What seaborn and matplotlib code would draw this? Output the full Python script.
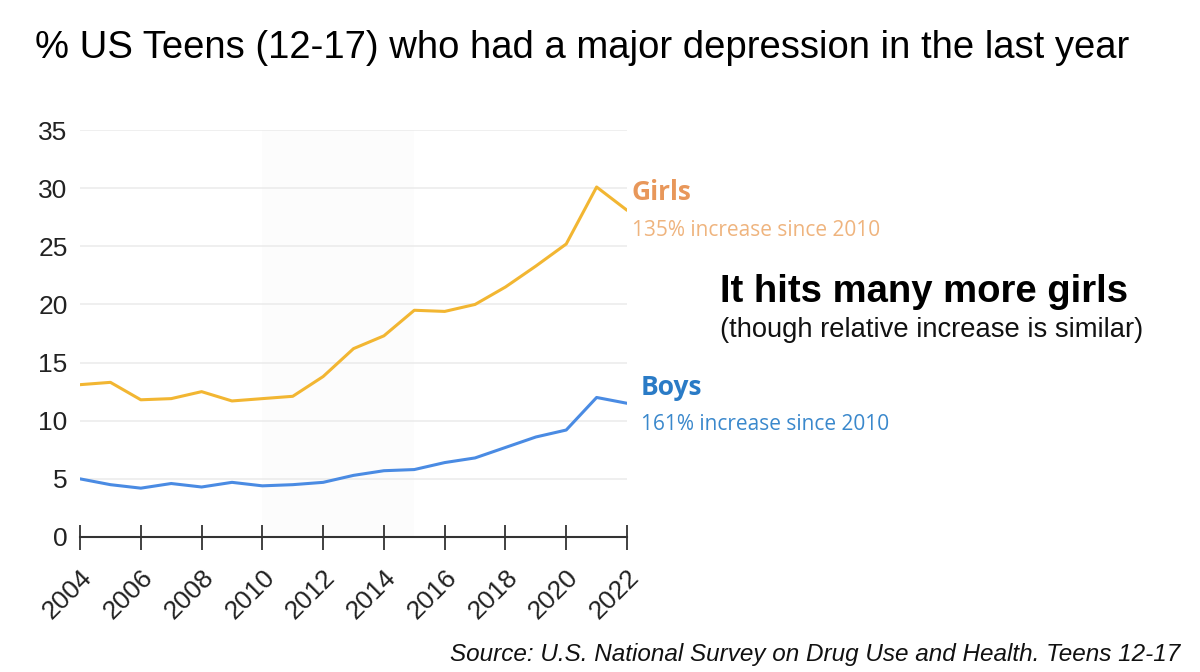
import matplotlib
matplotlib.use("Agg")
import matplotlib.pyplot as plt
import seaborn as sns
import pandas as pd
import numpy as np

# Data
years = list(range(2004, 2023))
girls = [13.1, 13.3, 11.8, 11.9, 12.5, 11.7, 11.9, 12.1, 13.8, 16.2, 17.3, 19.5,
         19.4, 20.0, 21.5, 23.3, 25.2, 30.1, 28.1]
boys = [5.0, 4.5, 4.2, 4.6, 4.3, 4.7, 4.4, 4.5, 4.7, 5.3, 5.7, 5.8,
        6.4, 6.8, 7.7, 8.6, 9.2, 12.0, 11.5]
y_ticks = [0, 5, 10, 15, 20, 25, 30, 35]
x_ticks = list(range(2004, 2023, 2))

GIRL_LINE = "#f2b632"
BOY_LINE = "#4a8be3"

df = pd.DataFrame({
    "year": years * 2,
    "value": girls + boys,
    "group": ["Girls"] * len(years) + ["Boys"] * len(years),
})

sns.set_theme(style="white")
plt.rcParams["font.family"] = ["Liberation Sans", "DejaVu Sans"]

fig = plt.figure(figsize=(12, 6.72), dpi=100)
ax = fig.add_axes([0.0667, 0.2009, 0.4558, 0.6056])

# very faint highlighted band behind 2010-2015
ax.axvspan(2010, 2015, color="#fcfcfc", zorder=0, lw=0)

for y in y_ticks[1:]:
    ax.axhline(y, color="#ececec", lw=1.2, zorder=1)

sns.lineplot(data=df, x="year", y="value", hue="group",
             palette={"Girls": GIRL_LINE, "Boys": BOY_LINE},
             linewidth=2.2, legend=False, ax=ax, zorder=3)

ax.set_xlim(2004, 2022)
ax.set_ylim(0, 35)
ax.set_xticks(x_ticks)
ax.set_xticklabels([str(x) for x in x_ticks], rotation=45, ha="right",
                   rotation_mode="anchor", fontsize=19, color="#222222")
ax.set_yticks(y_ticks)
ax.set_yticklabels([str(y) for y in y_ticks], fontsize=19, color="#222222")
ax.tick_params(axis="x", direction="inout", length=18, width=1.3,
               color="#333333", pad=11, bottom=True)
ax.tick_params(axis="y", length=0, pad=9)
ax.set_xlabel("")
ax.set_ylabel("")

for side in ["top", "right", "left"]:
    ax.spines[side].set_visible(False)
ax.spines["bottom"].set_color("#333333")
ax.spines["bottom"].set_linewidth(1.5)
ax.spines["bottom"].set_zorder(4)

# series labels
lab_font = ["Open Sans", "DejaVu Sans"]
fig.text(632 / 1200, 1 - 193 / 672, "Girls", fontsize=19, fontweight="bold",
         color="#e8975a", family=lab_font, va="center")
fig.text(632 / 1200, 1 - 231 / 672, "135% increase since 2010", fontsize=15,
         color="#efb47e", family=lab_font, va="center")
fig.text(641 / 1200, 1 - 388 / 672, "Boys", fontsize=19, fontweight="bold",
         color="#2a7bc6", family=lab_font, va="center")
fig.text(641 / 1200, 1 - 425 / 672, "161% increase since 2010", fontsize=15,
         color="#3a88cc", family=lab_font, va="center")

fig.text(720 / 1200, 1 - 292 / 672, "It hits many more girls", fontsize=27.5,
         fontweight="bold", color="black", va="center")
fig.text(720 / 1200, 1 - 330 / 672, "(though relative increase is similar)",
         fontsize=19.7, color="#111111", va="center")

fig.text(35 / 1200, 1 - 48 / 672,
         "% US Teens (12-17) who had a major depression in the last year",
         fontsize=27.5, color="black", va="center")
fig.text(1180 / 1200, 1 - 655 / 672,
         "Source: U.S. National Survey on Drug Use and Health. Teens 12-17",
         fontsize=17.5, style="italic", color="#111111", ha="right", va="center")

fig.savefig("out.png", dpi=100, facecolor="white")
